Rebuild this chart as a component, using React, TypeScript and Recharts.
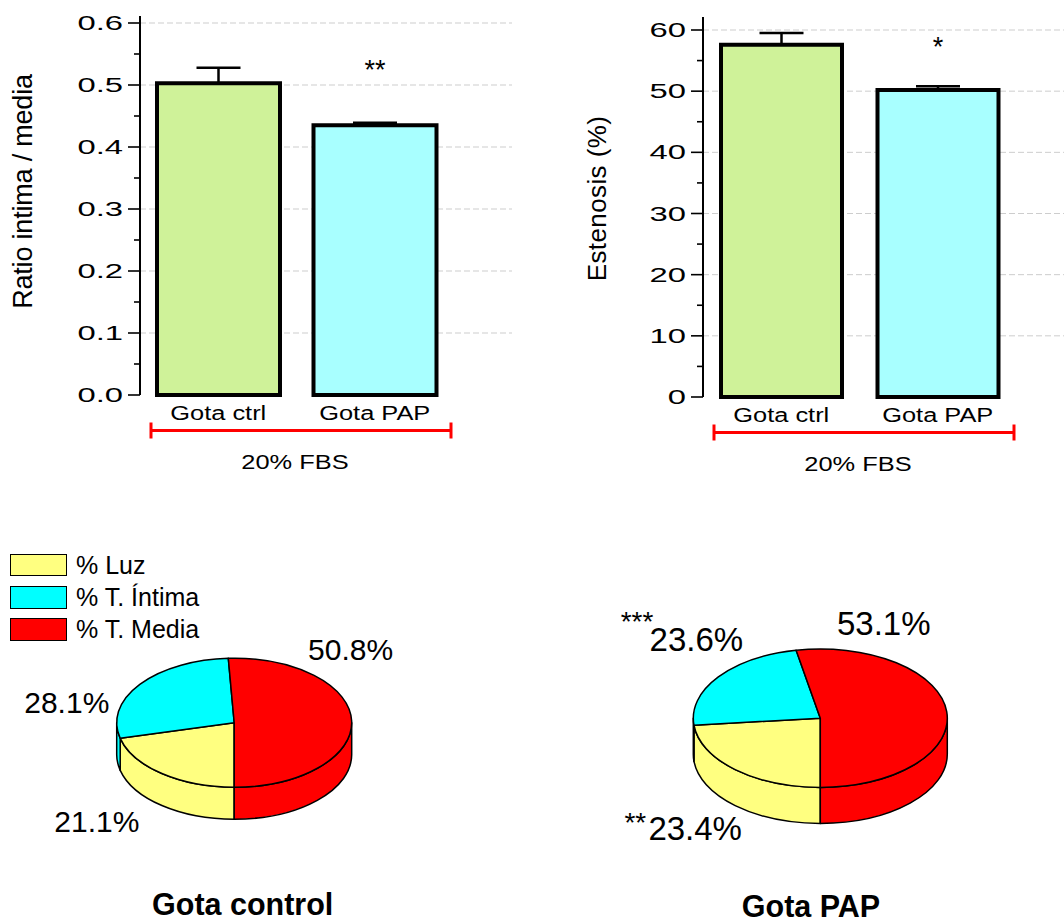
import {
  BarChart, Bar, XAxis, YAxis, CartesianGrid, ErrorBar, Cell, LabelList, Label,
  PieChart, Pie,
} from 'recharts';

const FONT = '"Liberation Sans", Arial, Helvetica, sans-serif';

// bar panels
const groups = ['Gota ctrl', 'Gota PAP'];
const ratioMeans = [0.503, 0.435];
const ratioErrors = [0.025, 0.004];
const ratioStars = ['', '**'];
const stenosisMeans = [57.6, 50.2];
const stenosisErrors = [1.9, 0.6];
const stenosisStars = ['', '*'];
const barColors = ['#CFF299', '#A8FFFF'];
const ratioTicks = [0, 0.05, 0.1, 0.15, 0.2, 0.25, 0.3, 0.35, 0.4, 0.45, 0.5, 0.55, 0.6];
const ratioGrid = [0.1, 0.2, 0.3, 0.4, 0.5, 0.6];
const stenosisTicks = [0, 5, 10, 15, 20, 25, 30, 35, 40, 45, 50, 55, 60];
const stenosisGrid = [10, 20, 30, 40, 50, 60];
const conditionLabel = '20% FBS';

// pie panels
const layers = ['% Luz', '% T. Íntima', '% T. Media'];
const layerColors = ['#FFFF80', '#00FFFF', '#FF0000'];
const controlShares = [21.1, 28.1, 50.8];
const papShares = [23.4, 23.6, 53.1];
const controlStars = ['', '', ''];
const papStars = ['**', '***', ''];

// label placement relative to the rim point of each slice
const controlPlace = [[-65, 48], [-73, 18], [-1, -72]];
const papPlace = [[-40, 59], [-22, -37], [-63, -88]];
const papStarPlace = [[-49, 3], [-43, -9], [0, 0]];

const RAD = Math.PI / 180;

function BarPanel(props: any) {
  const {
    values, errors, stars, ticks, grid, max, isMajor, fmt, yLabel, yLabelX, yLabelDy,
    yLabelSize, yLabelSpacing, width, height, margin, yWidth, xHeight, padRight,
    barSize, starOffset, overshoot,
  } = props;
  const data = groups.map((g, i) => ({ group: g, value: values[i], err: [0, errors[i]], star: stars[i] }));

  const valueTick = (p: any) => {
    const v = p.payload.value;
    const major = isMajor(v);
    return (
      <g>
        <line x1={p.x} x2={p.x - (major ? 12 : 6)} y1={p.y} y2={p.y} stroke="#000" strokeWidth={1.6} />
        {major && (
          <text transform={`translate(${p.x - 17},${p.y}) scale(1.6,1)`} textAnchor="end"
            dominantBaseline="central" fontSize={20.5} fontFamily={FONT} fill="#000">
            {fmt(v)}
          </text>
        )}
      </g>
    );
  };

  const categoryTick = (p: any) => (
    <text transform={`translate(${p.x},${p.y + 18}) scale(1.27,1)`} textAnchor="middle"
      dominantBaseline="central" fontSize={20} fontFamily={FONT} fill="#000">
      {p.payload.value}
    </text>
  );

  const bracket = (p: any) => {
    const vb = p.viewBox || { x: 0, y: 0 };
    const y = vb.y + 35.5;
    return (
      <g>
        <line x1={vb.x + 11} x2={vb.x + 311} y1={y} y2={y} stroke="#FF0000" strokeWidth={3} />
        <line x1={vb.x + 11} x2={vb.x + 11} y1={y - 8} y2={y + 8} stroke="#FF0000" strokeWidth={3} />
        <line x1={vb.x + 311} x2={vb.x + 311} y1={y - 8} y2={y + 8} stroke="#FF0000" strokeWidth={3} />
        <text transform={`translate(${vb.x + 155},${vb.y + 66.7}) scale(1.27,1)`} textAnchor="middle"
          dominantBaseline="central" fontSize={20} fontFamily={FONT} fill="#000">
          {conditionLabel}
        </text>
      </g>
    );
  };

  const axisTitle = (p: any) => {
    const vb = p.viewBox || { x: 0, y: 0, width: 0, height: 0 };
    const ax = vb.x + vb.width;
    return (
      <g>
        <line x1={ax} x2={ax} y1={vb.y - overshoot} y2={vb.y} stroke="#000" strokeWidth={2} />
        <text transform={`translate(${vb.x + yLabelX},${vb.y + vb.height / 2 + yLabelDy}) rotate(-90)`}
          textAnchor="middle" dominantBaseline="central" fontSize={yLabelSize}
          letterSpacing={yLabelSpacing} fontFamily={FONT} fill="#000">
          {yLabel}
        </text>
      </g>
    );
  };

  return (
    <BarChart width={width} height={height} data={data} margin={margin}>
      <CartesianGrid vertical={false} horizontalValues={grid} stroke="#cdcdcd" strokeDasharray="6 3" />
      <XAxis dataKey="group" interval={0} tickSize={0} tickMargin={0} axisLine={false} tickLine={false}
        padding={{ left: 0, right: padRight }} height={xHeight} tick={categoryTick}
        label={<Label content={bracket} />} />
      <YAxis type="number" domain={[0, max]} ticks={ticks} interval={0} tickSize={0} tickMargin={0}
        tickLine={false} axisLine={{ stroke: '#000', strokeWidth: 2 }} width={yWidth} tick={valueTick}
        label={<Label content={axisTitle} />} />
      <Bar dataKey="value" barSize={barSize} stroke="#000" strokeWidth={4} isAnimationActive={false}>
        {data.map((d, i) => (
          <Cell key={d.group} fill={barColors[i]} />
        ))}
        <ErrorBar dataKey="err" width={22} stroke="#000" strokeWidth={2.5} />
        <LabelList dataKey="star" position="top" offset={starOffset} fontSize={27} fill="#000"
          stroke="none" fontFamily={FONT} />
      </Bar>
    </BarChart>
  );
}

function Pie3D(props: any) {
  const { shares, stars, place, starPlace, ky, depth, cx, cy, r, width, height, fontSize } = props;
  const data = layers.map((name, i) => ({ name, value: shares[i] }));

  const renderSlice = (p: any) => {
    const { startAngle, endAngle, index, value } = p;
    const ox = p.cx;
    const oy = p.cy;
    const rx = p.outerRadius;
    const ry = rx * ky;
    const px = (a: number) => ox + rx * Math.cos(a * RAD);
    const py = (a: number, off = 0) => oy - ry * Math.sin(a * RAD) + off;
    const pt = (a: number, off = 0) => `${px(a)},${py(a, off)}`;
    const hi = Math.max(startAngle, endAngle);
    const lo = Math.min(startAngle, endAngle);
    const large = hi - lo > 180 ? 1 : 0;
    const top = `M${ox},${oy} L${pt(hi)} A${rx},${ry} 0 ${large} 1 ${pt(lo)} Z`;
    const sides: string[] = [];
    for (let k = -2; k <= 1; k++) {
      const b1 = Math.max(lo, -180 + 360 * k);
      const b2 = Math.min(hi, 360 * k);
      if (b2 - b1 > 0.01) {
        sides.push(`M${pt(b2)} A${rx},${ry} 0 0 1 ${pt(b1)} L${pt(b1, depth)} A${rx},${ry} 0 0 0 ${pt(b2, depth)} Z`);
      }
    }
    const mid = (startAngle + endAngle) / 2;
    const tx = px(mid) + place[index][0];
    const ty = py(mid) + place[index][1];
    const color = layerColors[index];
    return (
      <g>
        {sides.map((d) => (
          <path key={d} d={d} fill={color} stroke="#000" strokeWidth={1.5} strokeLinejoin="round" />
        ))}
        <path d={top} fill={color} stroke="#000" strokeWidth={1.5} strokeLinejoin="round" />
        <text x={tx} y={ty} textAnchor="middle" dominantBaseline="central" fontSize={fontSize}
          fontFamily={FONT} fill="#000">
          {`${value.toFixed(1)}%`}
        </text>
        {stars[index] && (
          <text x={tx + starPlace[index][0]} y={ty + starPlace[index][1]} textAnchor="end"
            fontSize={28} fontFamily={FONT} fill="#000">
            {stars[index]}
          </text>
        )}
      </g>
    );
  };

  return (
    <PieChart width={width} height={height} margin={{ top: 0, right: 0, bottom: 0, left: 0 }}>
      <Pie data={data} dataKey="value" nameKey="name" cx={cx} cy={cy} outerRadius={r}
        startAngle={-90} endAngle={-450} fill="none" stroke="none" label={renderSlice}
        labelLine={false} isAnimationActive={false} />
    </PieChart>
  );
}

function LayerLegend() {
  return (
    <div style={{ position: 'absolute', left: 10, top: 549, fontFamily: FONT }}>
      {layers.map((name, i) => (
        <div key={name} style={{ display: 'flex', alignItems: 'center', height: 32.3 }}>
          <div style={{ width: 55, height: 20.5, background: layerColors[i], border: '1.5px solid #000', marginRight: 9 }} />
          <span style={{ fontSize: 25, lineHeight: '23px', color: '#000' }}>{name}</span>
        </div>
      ))}
    </div>
  );
}

const titleStyle: any = {
  position: 'absolute', width: 300, textAlign: 'center', fontSize: 30.5, fontWeight: 'bold',
  lineHeight: '30.5px', fontFamily: FONT, color: '#000',
};

export default function App() {
  return (
    <div style={{ position: 'absolute', left: 0, top: 0, width: 1064, height: 922, background: '#fff', overflow: 'hidden' }}>
      <div style={{ position: 'absolute', left: 0, top: 0 }}>
        <BarPanel values={ratioMeans} errors={ratioErrors} stars={ratioStars} ticks={ratioTicks}
          grid={ratioGrid} max={0.6} isMajor={(v: number) => Math.round(v * 100) % 10 === 0}
          fmt={(v: number) => v.toFixed(1)} yLabel="Ratio intima / media" yLabelX={23} yLabelDy={-17.5}
          yLabelSize={27} yLabelSpacing={-0.2} width={530} height={480}
          margin={{ top: 23, right: 18, left: 0, bottom: 0 }} yWidth={140} xHeight={85} padRight={59}
          barSize={123} starOffset={46} overshoot={7} />
      </div>
      <div style={{ position: 'absolute', left: 560, top: 0 }}>
        <BarPanel values={stenosisMeans} errors={stenosisErrors} stars={stenosisStars}
          ticks={stenosisTicks} grid={stenosisGrid} max={60} isMajor={(v: number) => v % 10 === 0}
          fmt={(v: number) => String(v)} yLabel="Estenosis (%)" yLabelX={36.7} yLabelDy={-15}
          yLabelSize={26} yLabelSpacing={0.4} width={504} height={480}
          margin={{ top: 30, right: 0, left: 0, bottom: 0 }} yWidth={143} xHeight={83} padRight={48}
          barSize={121} starOffset={33.5} overshoot={13} />
      </div>
      <div style={{ position: 'absolute', left: 0, top: 500 }}>
        <Pie3D shares={controlShares} stars={controlStars} place={controlPlace} starPlace={papStarPlace}
          ky={0.549} depth={32} cx={234.2} cy={222.7} r={117.5} width={530} height={422}
          fontSize={30} />
      </div>
      <div style={{ position: 'absolute', left: 560, top: 500 }}>
        <Pie3D shares={papShares} stars={papStars} place={papPlace} starPlace={papStarPlace}
          ky={0.545} depth={36} cx={260.3} cy={218.2} r={127} width={504} height={422}
          fontSize={33} />
      </div>
      <LayerLegend />
      <div style={{ ...titleStyle, left: 92.7, top: 888.5 }}>Gota control</div>
      <div style={{ ...titleStyle, left: 661, top: 890.5 }}>Gota PAP</div>
    </div>
  );
}
